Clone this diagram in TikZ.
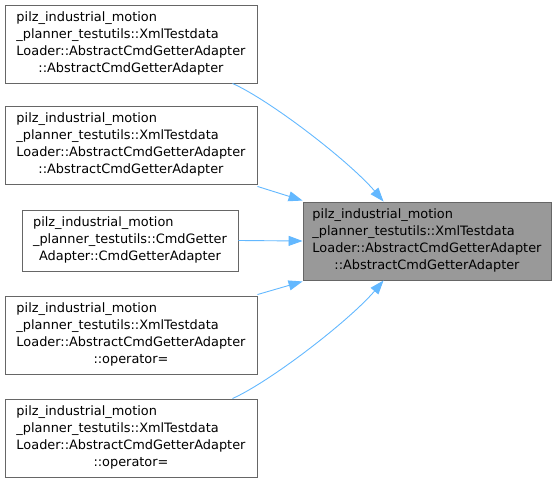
\documentclass[tikz,border=0pt]{standalone}
\usepackage{fontspec}
\setmainfont{DejaVu Sans}
\usetikzlibrary{arrows.meta}
\definecolor{edgeblue}{HTML}{63B8FF}
\definecolor{boxline}{HTML}{666666}
\definecolor{hlfill}{HTML}{999999}
\newcommand{\lbl}[2]{\begin{tabular}{@{}l@{}}#1\\\multicolumn{1}{@{}c@{}}{#2}\end{tabular}}
\tikzset{
  box/.style={draw=boxline, line width=0.9pt, fill=white, inner sep=0pt, align=center,
    font=\fontsize{12.9}{17}\selectfont},
  hl/.style={box, fill=hlfill},
  wide/.style={minimum width=252pt, minimum height=78pt},
  conn/.style={draw=edgeblue, line width=0.9pt, -{Triangle[length=14pt,width=10pt]}}
}
\begin{document}
\begin{tikzpicture}[x=1pt,y=-1pt]
\useasboundingbox (0,0) rectangle (557,484);
\renewcommand{\arraystretch}{1}
\node[box, wide] (b1) at (131,44) {\lbl{pilz\_industrial\_motion\\\_planner\_testutils::XmlTestdata\\Loader::AbstractCmdGetterAdapter}{::AbstractCmdGetterAdapter}};
\node[box, wide] (b2) at (131,145) {\lbl{pilz\_industrial\_motion\\\_planner\_testutils::XmlTestdata\\Loader::AbstractCmdGetterAdapter}{::AbstractCmdGetterAdapter}};
\node[box, minimum width=216pt, minimum height=61pt] (b3) at (130,240.5) {\lbl{pilz\_industrial\_motion\\\_planner\_testutils::CmdGetter}{Adapter::CmdGetterAdapter}};
\node[box, wide] (b4) at (131,335) {\lbl{pilz\_industrial\_motion\\\_planner\_testutils::XmlTestdata\\Loader::AbstractCmdGetterAdapter}{::operator=}};
\node[box, wide] (b5) at (131,438) {\lbl{pilz\_industrial\_motion\\\_planner\_testutils::XmlTestdata\\Loader::AbstractCmdGetterAdapter}{::operator=}};
\node[hl, minimum width=248pt, minimum height=78pt] (t) at (427,241) {\lbl{pilz\_industrial\_motion\\\_planner\_testutils::XmlTestdata\\Loader::AbstractCmdGetterAdapter}{::AbstractCmdGetterAdapter}};
\draw[conn] ([xshift=-25pt]b1.south east) .. controls +(38,17) and +(-34,-40) .. ([xshift=81pt]t.north west);
\draw[conn] ([yshift=-2pt]b2.south east) -- ([yshift=1pt]t.north west);
\draw[conn] (b3.east) -- (t.west);
\draw[conn] ([yshift=1pt]b4.north east) -- ([yshift=-1pt]t.south west);
\draw[conn] ([xshift=-25pt]b5.north east) .. controls +(38,-17) and +(-34,40) .. ([xshift=81pt]t.south west);
\end{tikzpicture}
\end{document}
